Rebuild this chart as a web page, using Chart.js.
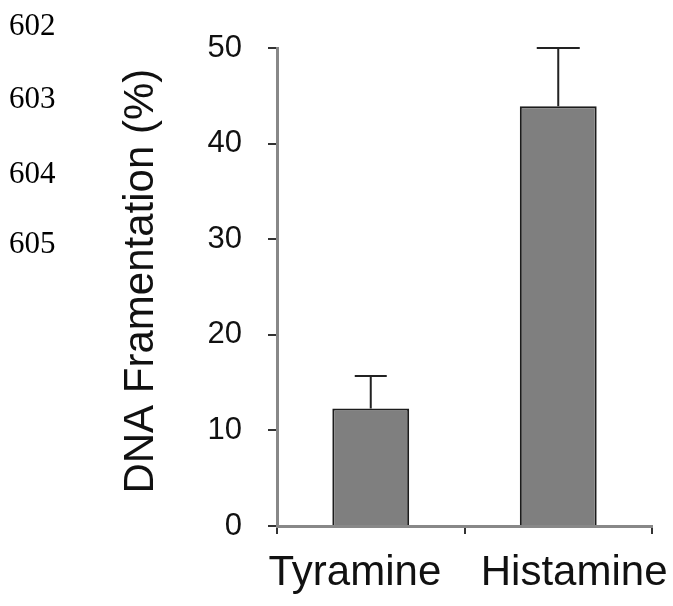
<!DOCTYPE html>
<html>
<head>
<meta charset="utf-8">
<script src="https://cdn.jsdelivr.net/npm/chart.js@4"></script>
<style>
  html, body { margin: 0; padding: 0; background: #fff; }
  #wrap { position: relative; width: 673px; height: 606px; }
</style>
</head>
<body>
<div id="wrap"><canvas id="c" width="673" height="606"></canvas></div>
<script>
// ---- data ----
const categories = ["Tyramine", "Histamine"];
const tickLabels = ["Tyramine\u00a0\u00a0\u2009", "\u2009\u00a0\u00a0Histamine"];
const fragmentation = [12.3, 43.9];
const errorUpper = [15.7, 50.0];
const yTicks = [0, 10, 20, 30, 40, 50];
const lineNumbers = ["602", "603", "604", "605"];
const yTitle = "\u00a0DNA Framentation (%)";

// ---- styles ----
const axisColor = "#888888";
const tickMarkColor = "#333333";
const capHalfWidths = [16, 21.5];
const lineNumBaselines = [35, 108, 183, 253];

const errorBars = {
  id: "errorBars",
  afterDatasetsDraw(chart) {
    const ctx = chart.ctx;
    const meta = chart.getDatasetMeta(0);
    const y = chart.scales.y;
    ctx.save();
    ctx.strokeStyle = "#222";
    ctx.lineWidth = 2;
    meta.data.forEach((bar, i) => {
      const top = y.getPixelForValue(errorUpper[i]);
      ctx.beginPath();
      ctx.moveTo(bar.x, bar.y);
      ctx.lineTo(bar.x, top);
      ctx.moveTo(bar.x - capHalfWidths[i], top);
      ctx.lineTo(bar.x + capHalfWidths[i], top);
      ctx.stroke();
    });
    ctx.restore();
  }
};

const lineNums = {
  id: "lineNums",
  afterDraw(chart) {
    const ctx = chart.ctx;
    ctx.save();
    ctx.fillStyle = "#000";
    ctx.font = "31px 'Liberation Serif', 'DejaVu Serif', serif";
    ctx.textBaseline = "alphabetic";
    ctx.textAlign = "left";
    lineNumbers.forEach((t, i) => ctx.fillText(t, 9, lineNumBaselines[i]));
    ctx.restore();
  }
};

new Chart(document.getElementById("c"), {
  type: "bar",
  data: {
    labels: tickLabels,
    datasets: [{
      label: "DNA fragmentation",
      data: fragmentation,
      backgroundColor: "#7f7f7f",
      borderColor: "#1c1c1c",
      borderWidth: 2,
      borderSkipped: "bottom",
      barPercentage: 0.41,
      categoryPercentage: 1.0
    }]
  },
  options: {
    responsive: false,
    animation: false,
    events: [],
    layout: { padding: { left: 100, right: 21, top: 48, bottom: 0 } },
    plugins: { legend: { display: false }, tooltip: { enabled: false } },
    scales: {
      x: {
        offset: true,
        grid: { display: true, drawOnChartArea: false, drawTicks: true, tickLength: 8, color: axisColor, tickColor: tickMarkColor, tickWidth: 2, lineWidth: 2, offset: true },
        border: { display: true, color: axisColor, width: 3 },
        ticks: { color: "#111", font: { family: "'Liberation Sans', Arial, sans-serif", size: 42 }, padding: 14, maxRotation: 0, minRotation: 0, autoSkip: false },
        afterFit(scale) { scale.paddingLeft = 0; scale.paddingRight = 0; scale.height = 80; }
      },
      y: {
        min: 0, max: 50,
        afterBuildTicks(scale) { scale.ticks = yTicks.map(v => ({ value: v })); },
        grid: { display: true, drawOnChartArea: false, drawTicks: true, tickLength: 9, color: axisColor, tickColor: tickMarkColor, tickWidth: 2, lineWidth: 2 },
        border: { display: true, color: axisColor, width: 3 },
        ticks: { color: "#111", font: { family: "'Liberation Sans', Arial, sans-serif", size: 31 }, padding: 26 },
        title: { display: true, text: yTitle, color: "#111", font: { family: "'Liberation Sans', Arial, sans-serif", size: 42 }, padding: { top: 16, bottom: 0 } },
        afterFit(scale) { scale.width = 177; }
      }
    }
  },
  plugins: [errorBars, lineNums]
});
</script>
</body>
</html>
